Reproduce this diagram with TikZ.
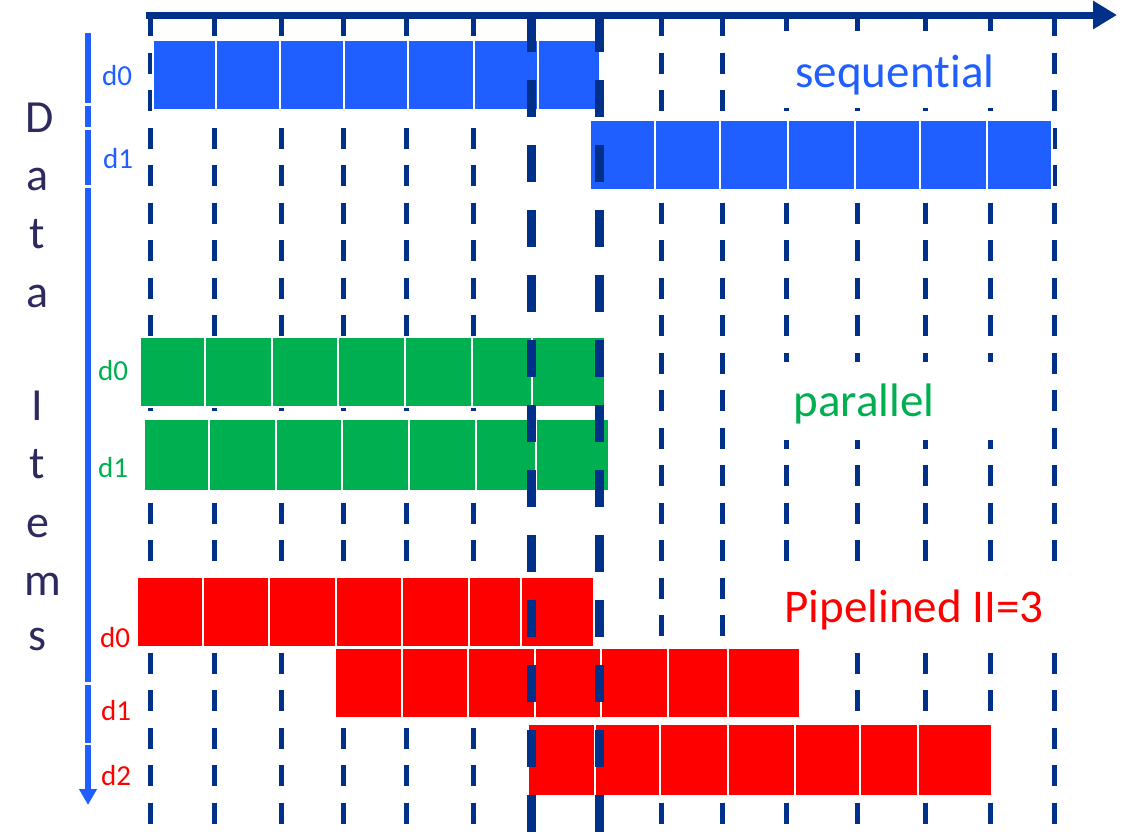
\documentclass[tikz,border=0pt]{standalone}
\usepackage{fontspec}
\setmainfont{Carlito}[RawFeature={-liga;-clig;-dlig;-calt}]
\usetikzlibrary{arrows.meta}
\definecolor{seqblue}{HTML}{1F5EFF}
\definecolor{pargreen}{HTML}{00B050}
\definecolor{pipred}{HTML}{FF0000}
\definecolor{navyline}{HTML}{003087}
\definecolor{axtext}{HTML}{2E2A5E}
\newcommand\mybar[4]{%
  \foreach \xx [count=\ii, remember=\xx as \px (initially 0)] in {#4}{%
    \ifnum\ii>1 \filldraw[fill=#1, draw=white, line width=2pt] (\px,#2) rectangle (\xx,#3);\fi}}
\begin{document}
\begin{tikzpicture}[x=1pt,y=-1pt,
  thindash/.style={navyline, line width=5pt, dash pattern=on 21pt off 16.5pt},
  thickdash/.style={navyline, line width=9pt, dash pattern=on 37pt off 28pt},
  letter/.style={text=axtext, font=\fontsize{46}{46}\selectfont, anchor=base},
  dlab/.style={font=\fontsize{29}{29}\selectfont, anchor=base},
  title/.style={font=\fontsize{47}{47}\selectfont, anchor=base},
  titlebg/.style={fill=white}]
\useasboundingbox (0,0) rectangle (1125,836);
% thin dashed grid lines
\foreach \x in {150,214,281,343,406,473,661,722,786,857,925,990,1054}
  \draw[thindash] (\x,15) -- (\x,836);
% white backgrounds of the titles
\fill[titlebg] (765,31) rectangle (1030,108);
\fill[titlebg] (765,362) rectangle (1030,440);
\fill[titlebg] (765,563) rectangle (1066,650);
% bars
\mybar{seqblue}{40}{110}{153,216,280,344,408,474,538,600}
\mybar{seqblue}{120}{190}{590,655,720,788,855,920,987,1052}
\mybar{pargreen}{337}{407}{140,205,272,338,405,472,532,605}
\mybar{pargreen}{419}{491}{144,209,276,342,409,476,536,609}
\mybar{pipred}{577}{647}{137,203,269,336,402,469,521,594}
\mybar{pipred}{648}{718}{335,402,468,535,601,668,728,800}
\mybar{pipred}{724}{796}{528,595,660,728,795,860,918,992}
% thick dashed lines
\foreach \x in {531,599}
  \draw[thickdash] (\x,15) -- (\x,836);
% time axis
\coordinate (t0) at (146,15);
\coordinate (t1) at (1117,15);
\draw[navyline, line width=7pt, -{Triangle[length=24pt,width=27pt]}] (t0) -- (t1);
% data items axis
\coordinate (a0) at (88,33);
\coordinate (a1) at (88,805);
\draw[seqblue, line width=6pt, -{Triangle[length=16pt,width=17pt]}] (a0) -- (a1);
\foreach \y in {104.5,128.5,186.5,683.5,744}
  \draw[white, line width=2.5pt] (84,\y) -- (92,\y);
% vertical label
\node[letter] (l1) at (40,132) {D};
\node[letter] (l2) at (38,190) {a};
\node[letter] (l3) at (37,248) {t};
\node[letter] (l4) at (38,307) {a};
\node[letter] (l5) at (37,420) {I};
\node[letter] (l6) at (37,478) {t};
\node[letter] (l7) at (38,537) {e};
\node[letter] (l8) at (43,595) {m};
\node[letter] (l9) at (37,650) {s};
% row labels
\node[dlab, text=seqblue] (sd0) at (117,85) {d0};
\node[dlab, text=seqblue] (sd1) at (118,168) {d1};
\node[dlab, text=pargreen] (pd0) at (113,380) {d0};
\node[dlab, text=pargreen] (pd1) at (113,477) {d1};
\node[dlab, text=pipred] (rd0) at (115,647) {d0};
\node[dlab, text=pipred] (rd1) at (116,720) {d1};
\node[dlab, text=pipred] (rd2) at (116,785) {d2};
% titles
\node[title, text=seqblue] (tseq) at (895,87) {sequen\kern0pt tial};
\node[title, text=pargreen] (tpar) at (864,416) {parallel};
\node[title, text=pipred] (tpip) at (914,622) {Pipelined II=3};
\end{tikzpicture}
\end{document}
